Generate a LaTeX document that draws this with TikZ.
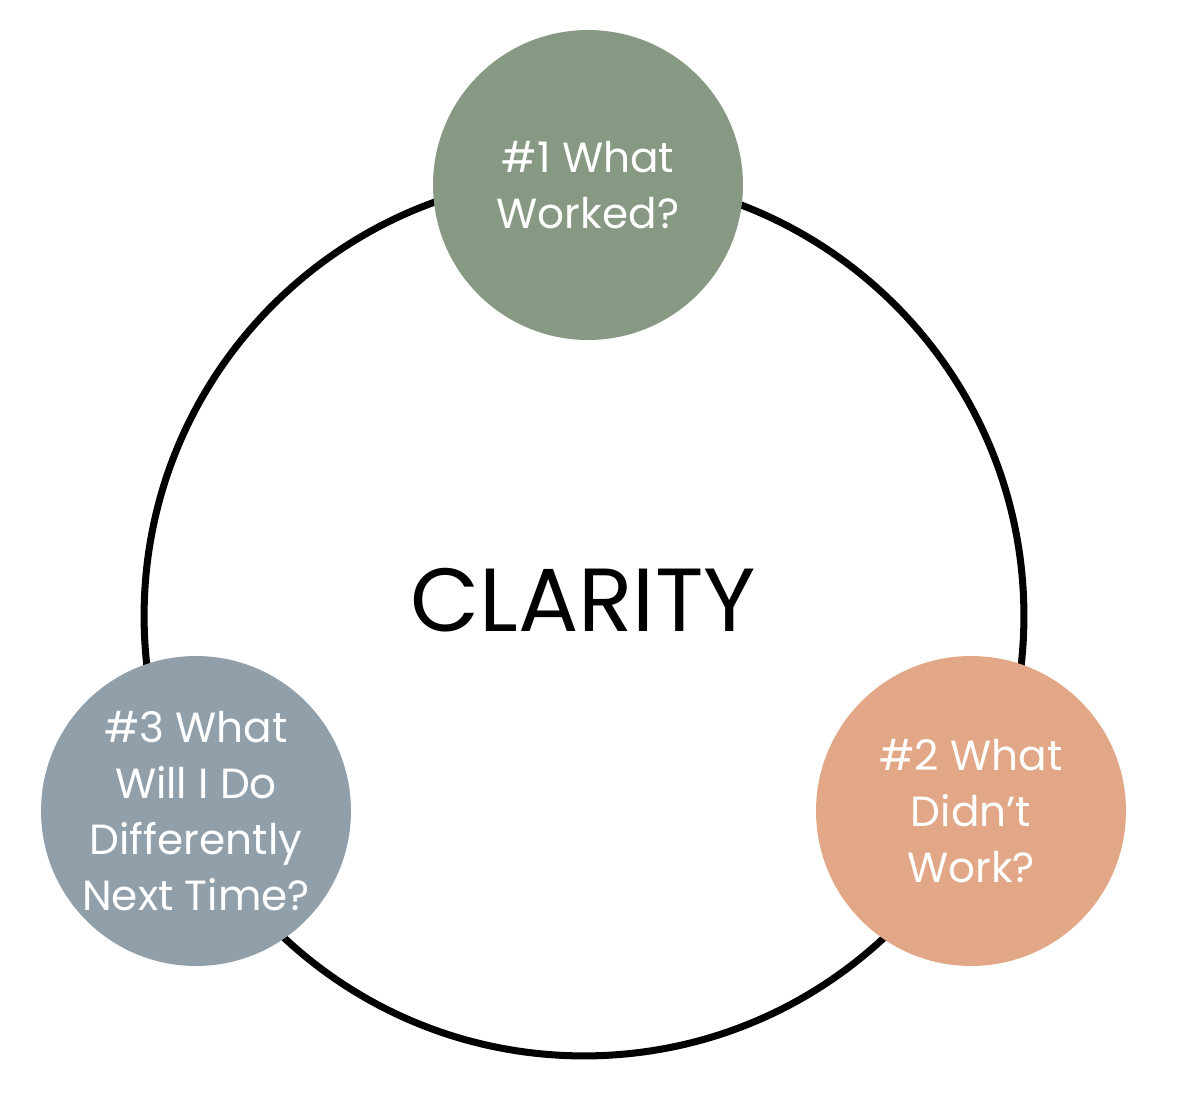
\documentclass[tikz,border=0pt]{standalone}
\usepackage{fontspec}
\setmainfont{Poppins}
\usepackage{tikz}
\usetikzlibrary{positioning}
\definecolor{sagegreen}{RGB}{135,153,131}
\definecolor{peach}{RGB}{226,167,134}
\definecolor{slategrey}{RGB}{145,159,170}

\begin{document}
\begin{tikzpicture}[
    x=0.02cm, y=-0.02cm,
    ring/.style={circle, draw, line width=4pt, minimum size=17.6cm, inner sep=0pt},
    topic/.style={circle, minimum size=6.2cm, inner sep=0pt, text=white, align=center, font=\fontsize{24}{31.8}\selectfont}
]
\useasboundingbox (0,0) rectangle (1180,1098);
\node[ring] (cycle) at (584,616) {};
\node[font=\fontsize{51}{54}\selectfont] (clarity) at (583,600) {CLARITY};
\node[topic, fill=sagegreen] (worked) at (588,185) {\#1 What\\Worked?};
\node[topic, fill=peach] (failed) at (971,811) {\#2 What\\Didn’t\\Work?};
\node[topic, fill=slategrey] (next) at (196,811) {\#3 What\\Will I Do\\Differently\\Next Time?};
\end{tikzpicture}
\end{document}
